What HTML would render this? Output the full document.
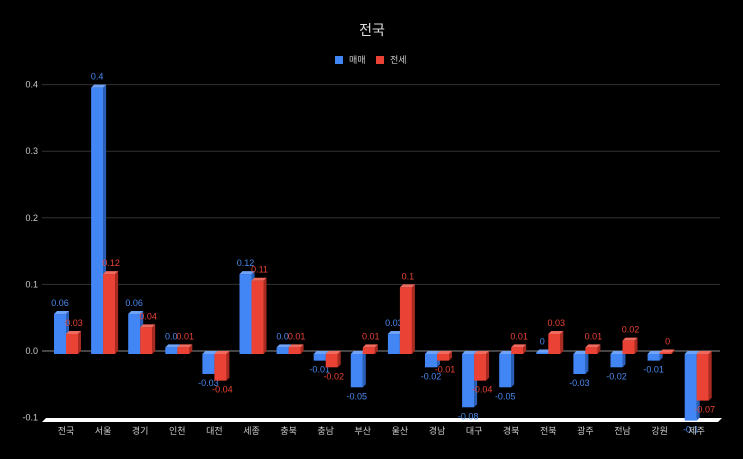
<!DOCTYPE html>
<html><head><meta charset="utf-8"><style>
html,body{margin:0;padding:0;background:#000;}
svg{display:block;font-family:"Liberation Sans","Noto Sans CJK KR",sans-serif;}
</style></head><body>
<svg id="c" width="743" height="459" xmlns="http://www.w3.org/2000/svg">
<rect width="743" height="459" fill="#000"/>
<text x="372" y="35" text-anchor="middle" font-size="14" fill="#ddd">전국</text>
<rect x="335" y="56" width="8" height="8" fill="#4285f4"/>
<text x="349" y="63" font-size="9" fill="#ccc">매매</text>
<rect x="376" y="56" width="8" height="8" fill="#ea4335"/>
<text x="390" y="63" font-size="9" fill="#ccc">전세</text>
</svg>
<script>
const s=document.getElementById('c');const NS='http://www.w3.org/2000/svg';
function el(t,a,txt){const e=document.createElementNS(NS,t);for(const k in a)e.setAttribute(k,a[k]);if(txt!==undefined)e.textContent=txt;s.appendChild(e);return e;}
const Z=351,U=666;
[0.1,0.2,0.3,0.4].forEach(v=>el('line',{x1:42,x2:720,y1:Z-v*U,y2:Z-v*U,stroke:'#333','stroke-width':1}));
el('line',{x1:42,x2:720,y1:Z,y2:Z,stroke:'#888','stroke-width':1});
[['0.4',0.4],['0.3',0.3],['0.2',0.2],['0.1',0.1],['0.0',0],['-0.1',-0.1]].forEach(([t,v])=>el('text',{x:38,y:Z-v*U+3,'text-anchor':'end','font-size':9,fill:'#ccc'},t));
el('polygon',{points:'42,422 46,418 722,418 718,422',fill:'#fff'});
const cats=['전국','서울','경기','인천','대전','세종','충북','충남','부산','울산','경남','대구','경북','전북','광주','전남','강원','제주'];
const B=[0.06,0.4,0.06,0.01,-0.03,0.12,0.01,-0.01,-0.05,0.03,-0.02,-0.08,-0.05,0,-0.03,-0.02,-0.01,-0.1];
const R=[0.03,0.12,0.04,0.01,-0.04,0.11,0.01,-0.02,0.01,0.1,-0.01,-0.04,0.01,0.03,0.01,0.02,0,-0.07];
const BL=['0.06','0.4','0.06','0.0','-0.03','0.12','0.0','-0.01','-0.05','0.03','-0.02','-0.08','-0.05','0','-0.03','-0.02','-0.01','-0.1'];
const RL=['0.03','0.12','0.04','0.01','-0.04','0.11','0.01','-0.02','0.01','0.1','-0.01','-0.04','0.01','0.03','0.01','0.02','0','-0.07'];
function bar(x,v,front,side,top,lab,col,labx){
 const base=354;let h=Math.abs(v*U);if(h<1.5)h=1.5;
 const yt=v>=0?base-h:base, yb=v>=0?base:base+h;
 el('polygon',{points:`${x+12},${yt} ${x+15},${yt-3} ${x+15},${yb-3} ${x+12},${yb}`,fill:side});
 el('polygon',{points:`${x},${yt} ${x+3},${yt-3} ${x+15},${yt-3} ${x+12},${yt}`,fill:top});
 el('rect',{x:x,y:yt,width:12,height:yb-yt,fill:front});
 const ly=v>=0?yt-8:yb+12;
 el('text',{x:labx,y:ly,'text-anchor':'middle','font-size':9,fill:col},lab);
}
cats.forEach((c,i)=>{
 const cx=66+i*37.1;
 bar(cx-12,B[i],'#4285f4','#2a5fb8','#6fa3f7',BL[i],'#4a8af0',cx-6);
 bar(cx,R[i],'#ea4335','#a82a20','#f06a5e',RL[i],'#ea4335',cx+8);
 el('text',{x:cx,y:434,'text-anchor':'middle','font-size':9,fill:'#ccc'},c);
});
</script>
</body></html>
